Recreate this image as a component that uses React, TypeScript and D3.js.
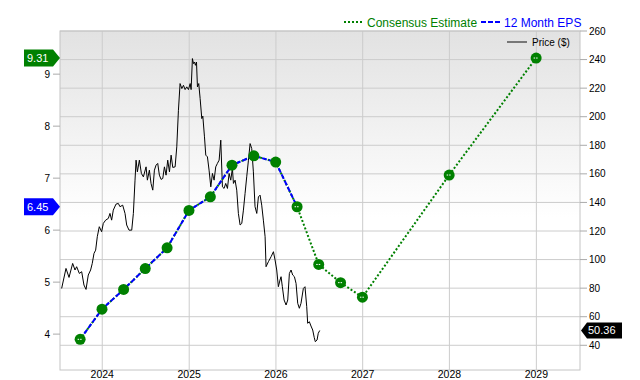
import React from "react";
import * as d3 from "d3";

// ---- Data ----
const epsDates = [
  "2023-09-30", "2023-12-31", "2024-03-31", "2024-06-30", "2024-09-30", "2024-12-31",
  "2025-03-31", "2025-06-30", "2025-09-30", "2025-12-31", "2026-03-31", "2026-06-30",
  "2026-09-30", "2026-12-31", "2027-12-31", "2028-12-31",
];
const epsValues = [3.9, 4.48, 4.86, 5.26, 5.66, 6.38, 6.64, 7.25, 7.43, 7.31, 6.45, 5.34, 4.99, 4.71, 7.06, 9.31];
const historicalCount = 11; // 12 Month EPS through 2026-03-31
const dashedMarkerIdx = [0, 10, 11, 12, 13, 14, 15];

// price series: [decimal year, price]
const priceTimes = [
  2023.532, 2023.582, 2023.617, 2023.659, 2023.686, 2023.705, 2023.736, 2023.763, 2023.789, 2023.813,
  2023.839, 2023.866, 2023.885, 2023.905, 2023.924, 2023.943, 2023.966, 2023.993, 2024.012, 2024.039,
  2024.07, 2024.089, 2024.108, 2024.127, 2024.158, 2024.185, 2024.204, 2024.235, 2024.262, 2024.281,
  2024.308, 2024.339, 2024.358, 2024.377, 2024.389, 2024.404, 2024.427, 2024.45, 2024.473, 2024.504,
  2024.519, 2024.542, 2024.561, 2024.581, 2024.6, 2024.619, 2024.638, 2024.657, 2024.677, 2024.696,
  2024.715, 2024.734, 2024.753, 2024.773, 2024.792, 2024.811, 2024.838, 2024.857, 2024.876, 2024.895,
  2024.915, 2024.934, 2024.953, 2024.972, 2024.991, 2025.011, 2025.022, 2025.037, 2025.049, 2025.061,
  2025.072, 2025.084, 2025.095, 2025.11, 2025.126, 2025.145, 2025.157, 2025.176, 2025.191, 2025.21,
  2025.229, 2025.249, 2025.268, 2025.287, 2025.306, 2025.325, 2025.345, 2025.364, 2025.383, 2025.402,
  2025.421, 2025.441, 2025.46, 2025.479, 2025.498, 2025.51, 2025.529, 2025.548, 2025.567, 2025.587,
  2025.606, 2025.625, 2025.644, 2025.663, 2025.683, 2025.702, 2025.721, 2025.74, 2025.759, 2025.779,
  2025.798, 2025.817, 2025.836, 2025.855, 2025.875, 2025.886, 2025.913, 2025.944, 2025.971, 2025.99,
  2026.009, 2026.028, 2026.047, 2026.059, 2026.074, 2026.094, 2026.117, 2026.136, 2026.155, 2026.174,
  2026.193, 2026.213, 2026.232, 2026.251, 2026.27, 2026.289, 2026.316, 2026.335, 2026.355, 2026.366,
  2026.385, 2026.404, 2026.424, 2026.442, 2026.454, 2026.474, 2026.488, 2026.505,
];
const priceValues = [
  79.8, 93.8, 87.5, 97.3, 92.7, 95.0, 90.3, 91.5, 82.2, 79.1,
  89.2, 92.7, 97.3, 104.3, 106.6, 116.0, 123.0, 119.5, 125.3, 127.6,
  128.8, 132.3, 127.6, 134.6, 138.8, 139.3, 137.0, 138.1, 132.3, 124.2,
  120.6, 120.6, 132.3, 155.6, 169.6, 161.4, 169.6, 160.3, 157.9, 164.9,
  155.6, 162.6, 153.3, 148.6, 162.6, 166.1, 167.3, 159.1, 156.1, 156.8,
  164.9, 159.1, 169.6, 161.4, 173.1, 164.5, 164.9, 178.9, 204.5, 223.2,
  219.7, 222.0, 219.0, 220.9, 219.0, 223.2, 219.0, 240.7, 237.2, 238.3,
  236.0, 238.3, 220.9, 223.2, 212.7, 198.7, 200.4, 185.9, 173.1, 171.9,
  162.6, 150.9, 160.3, 155.6, 164.9, 167.3, 169.6, 183.6, 150.9, 149.8,
  153.3, 149.8, 160.3, 155.6, 163.8, 153.3, 155.6, 148.6, 132.3, 124.2,
  125.3, 134.6, 146.3, 157.9, 169.6, 181.2, 177.7, 161.4, 137.0, 132.3,
  143.9, 145.1, 138.1, 127.6, 116.0, 95.0, 98.5, 102.0, 105.5, 99.7,
  92.7, 81.0, 85.7, 88.0, 81.0, 71.7, 68.2, 71.7, 90.3, 92.7,
  89.2, 88.0, 83.3, 69.4, 65.9, 69.4, 79.8, 81.0, 67.0, 55.4,
  56.5, 53.5, 50.7, 45.3, 42.5, 43.7, 48.4, 50.36,
];

const yearTicks = [2024, 2025, 2026, 2027, 2028, 2029];
const epsTicks = [4, 5, 6, 7, 8, 9];
const priceTicks = [40, 60, 80, 100, 120, 140, 160, 180, 200, 220, 240, 260];
const epsDomain = [3.31, 9.83];
const priceDomain = [22.7, 260];
const timeDomain = [2023.513, 2029.503];

const lastPrice = 50.36;
const currentEps = 6.45;
const lastEstimate = 9.31;

// ---- Helpers ----
function decYear(t: number): Date {
  const y = Math.floor(t);
  const s = Date.UTC(y, 0, 1);
  const e = Date.UTC(y + 1, 0, 1);
  return new Date(s + (t - y) * (e - s));
}
const parse = (s: string) => new Date(s + "T00:00:00Z");

const W = 640, H = 380;
const L = 60, R = 580, T = 31, B = 370;
const FONT = "'Liberation Sans', Arial, Helvetica, sans-serif";

export default function App() {
  const x = d3.scaleUtc().domain([decYear(timeDomain[0]), decYear(timeDomain[1])]).range([L, R]);
  const yE = d3.scaleLinear().domain(epsDomain).range([B, T]);
  const yP = d3.scaleLinear().domain(priceDomain).range([B, T]);

  const eps = epsDates.map((d, i) => ({ d: parse(d), v: epsValues[i], i }));
  const price = priceTimes.map((t, i) => ({ d: decYear(t), v: priceValues[i] }));

  const epsLine = d3.line<{ d: Date; v: number }>().x((p) => x(p.d)).y((p) => yE(p.v));
  const priceLine = d3.line<{ d: Date; v: number }>().x((p) => x(p.d)).y((p) => yP(p.v));

  const green = "#008000";
  const blue = "#0000ff";

  const leftLabel = (v: number, color: string) => {
    const cy = yE(v);
    return (
      <g key={"ll" + v}>
        <path d={`M24,${cy - 8.5} L53,${cy - 8.5} L60,${cy} L53,${cy + 8.5} L24,${cy + 8.5} Z`} fill={color} />
        <text x={27} y={cy + 4} fill="#fff" fontSize={11} fontFamily={FONT}>{v.toFixed(2)}</text>
      </g>
    );
  };

  const py = yP(lastPrice);

  return (
    <svg width={W} height={H} style={{ position: "absolute", left: 0, top: 0 }}>
      <defs>
        <linearGradient id="bg" x1="0" y1="0" x2="0" y2="1">
          <stop offset="0" stopColor="#e2e2e2" />
          <stop offset="0.55" stopColor="#ffffff" />
          <stop offset="1" stopColor="#ffffff" />
        </linearGradient>
        <clipPath id="plot">
          <rect x={L} y={T} width={R - L} height={B - T} />
        </clipPath>
      </defs>
      <rect x={0} y={0} width={W} height={H} fill="#fff" />
      <rect x={L} y={T} width={R - L} height={B - T} fill="url(#bg)" />

      {/* grid */}
      {priceTicks.map((t) => (
        <line key={"hg" + t} x1={L} x2={R} y1={yP(t)} y2={yP(t)} stroke="#cccccc" strokeWidth={1} />
      ))}
      {yearTicks.map((yr) => {
        const xx = x(decYear(yr));
        return <line key={"vg" + yr} x1={xx} x2={xx} y1={T} y2={B} stroke="#cccccc" strokeWidth={1} />;
      })}
      <rect x={L} y={T} width={R - L} height={B - T} fill="none" stroke="#c4c4c4" strokeWidth={1} />

      {/* left axis */}
      {epsTicks.map((t) => (
        <g key={"le" + t}>
          <line x1={53} x2={L} y1={yE(t)} y2={yE(t)} stroke="#aaa" />
          <text x={50} y={yE(t) + 3.5} textAnchor="end" fontSize={10} fontFamily={FONT} fill="#000">{t}</text>
        </g>
      ))}
      {/* right axis */}
      {priceTicks.map((t) => (
        <g key={"rp" + t}>
          <line x1={R} x2={587} y1={yP(t)} y2={yP(t)} stroke="#aaa" />
          <text x={589} y={yP(t) + 3.5} fontSize={10} fontFamily={FONT} fill="#000">{t}</text>
        </g>
      ))}
      {/* bottom axis */}
      {yearTicks.map((yr) => (
        <text key={"yl" + yr} x={x(decYear(yr))} y={378} textAnchor="middle" fontSize={10.5} fontFamily={FONT} fill="#000">{yr}</text>
      ))}

      {/* price */}
      <g clipPath="url(#plot)">
        <path d={priceLine(price) || ""} fill="none" stroke="#000" strokeWidth={1} />
        {/* consensus (dotted) */}
        <path d={epsLine(eps) || ""} fill="none" stroke={green} strokeWidth={2} strokeDasharray="2,2" />
        {/* 12 month EPS (dashed) */}
        <path d={epsLine(eps.slice(0, historicalCount)) || ""} fill="none" stroke={blue} strokeWidth={2} strokeDasharray="5,2" />
        {eps.map((p) => (
          <g key={"m" + p.i}>
            <circle cx={x(p.d)} cy={yE(p.v)} r={5.5} fill={green} />
            {dashedMarkerIdx.includes(p.i) && (
              <line x1={x(p.d) - 2.5} x2={x(p.d) + 2.5} y1={yE(p.v)} y2={yE(p.v)} stroke="#fff" strokeWidth={1} strokeDasharray="1.5,1" />
            )}
          </g>
        ))}
      </g>

      {/* left value labels */}
      {leftLabel(lastEstimate, green)}
      {leftLabel(currentEps, blue)}

      {/* right price label */}
      <g>
        <path d={`M${R + 1},${py} L${R + 7},${py - 8} L622,${py - 8} L622,${py + 8} L${R + 7},${py + 8} Z`} fill="#000" />
        <text x={588} y={py + 4} fill="#fff" fontSize={11} fontFamily={FONT}>{lastPrice.toFixed(2)}</text>
      </g>

      {/* legend */}
      <line x1={344} x2={362} y1={22} y2={22} stroke={green} strokeWidth={2} strokeDasharray="2,2" />
      <text x={367} y={27} fill={green} fontSize={12} fontFamily={FONT}>Consensus Estimate</text>
      <line x1={481} x2={501} y1={22} y2={22} stroke={blue} strokeWidth={2} strokeDasharray="5,2" />
      <text x={504} y={27} fill={blue} fontSize={12} fontFamily={FONT}>12 Month EPS</text>
      <line x1={507} x2={527} y1={42} y2={42} stroke="#777" strokeWidth={2} />
      <text x={532} y={45.5} fill="#000" fontSize={10} fontFamily={FONT}>Price ($)</text>
    </svg>
  );
}
